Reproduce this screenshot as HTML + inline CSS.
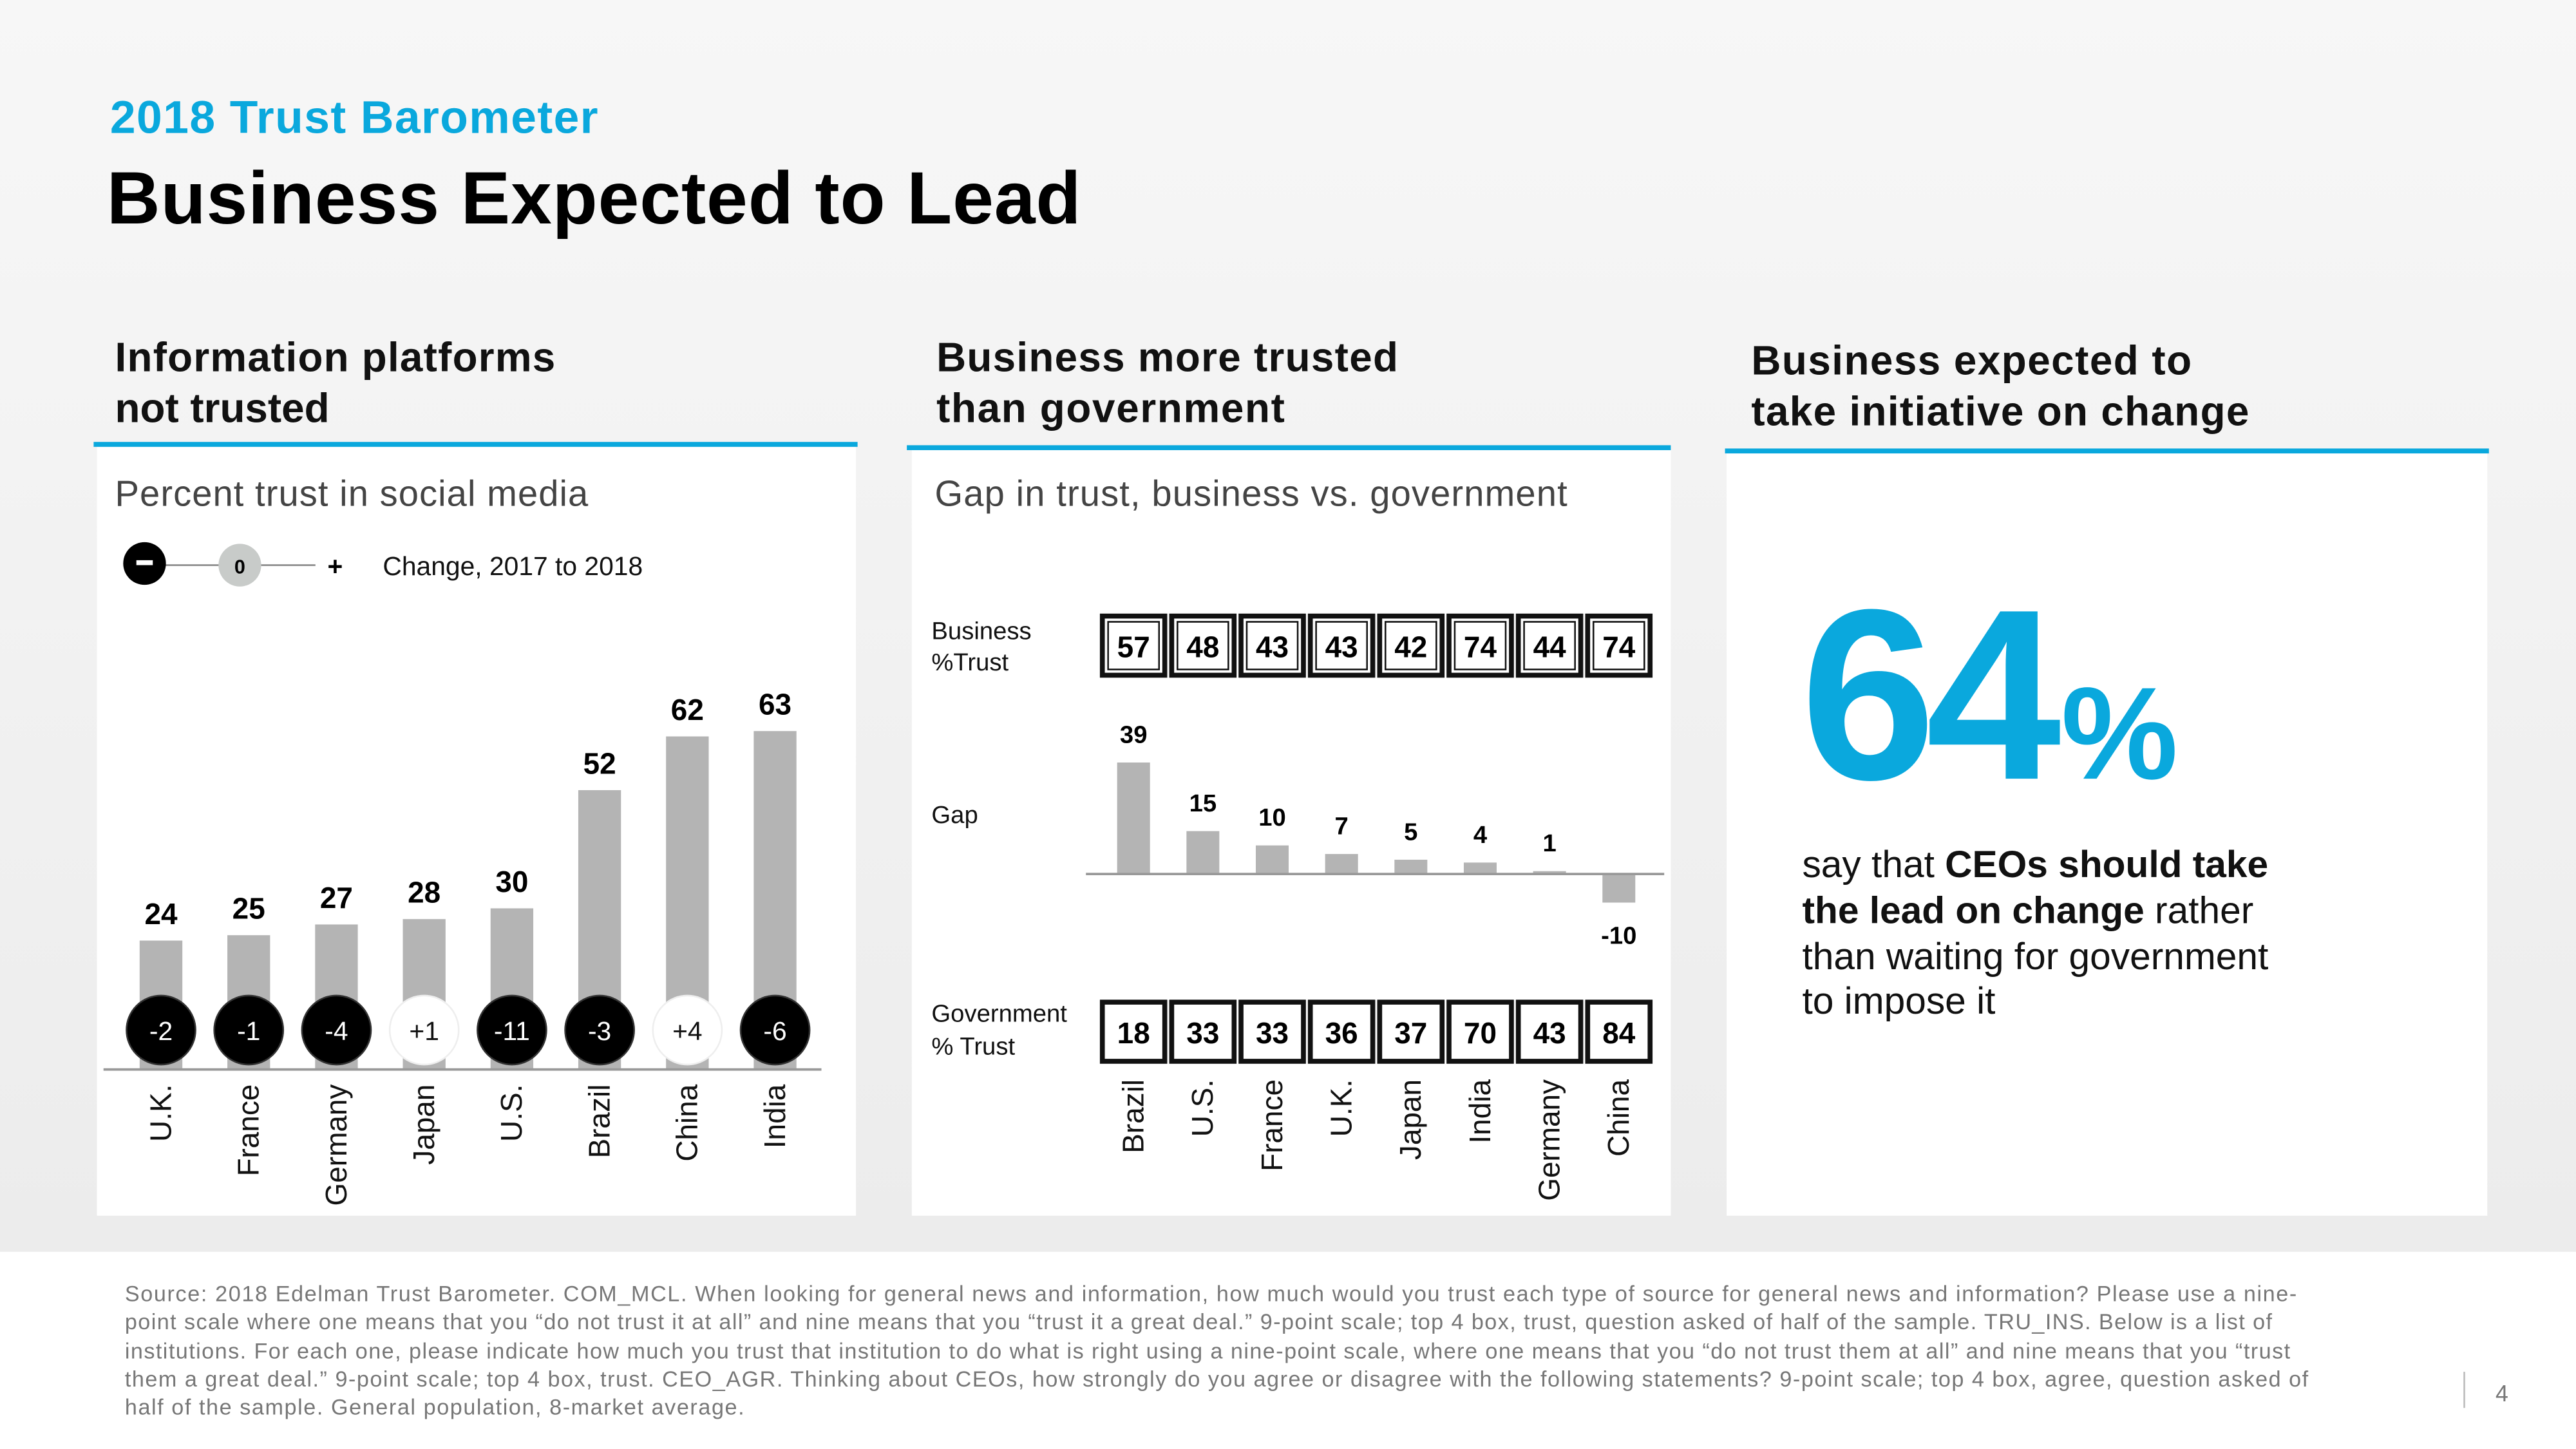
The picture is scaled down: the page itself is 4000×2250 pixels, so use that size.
<!DOCTYPE html>
<html><head><meta charset="utf-8"><style>
html,body{margin:0;padding:0;width:4000px;height:2250px;overflow:hidden;background:#f3f3f3}
svg{display:block}
text{font-family:"Liberation Sans",sans-serif}
</style></head><body>
<svg id="s" width="4000" height="2250" viewBox="0 0 1568 882" xmlns="http://www.w3.org/2000/svg">
<defs><linearGradient id="bg" x1="0" y1="0" x2="0" y2="1"><stop offset="0" stop-color="#f7f7f7"/><stop offset="1" stop-color="#ececec"/></linearGradient></defs>
<rect width="1568" height="762" fill="url(#bg)"/>
<rect y="762" width="1568" height="120" fill="#fff"/>
<text x="67" y="81" font-size="28" font-weight="bold" fill="#0aa8dd" textLength="297">2018 Trust Barometer</text>
<text x="65" y="136" font-size="45" font-weight="bold" fill="#000" textLength="593">Business Expected to Lead</text>

<g font-size="25" font-weight="bold" fill="#111">
<text x="70" y="226" textLength="268">Information platforms</text><text x="70" y="257">not trusted</text></g>
<g font-size="25" font-weight="bold" fill="#111">
<text x="570" y="226" textLength="281">Business more trusted</text><text x="570" y="257" textLength="212">than government</text></g>
<g font-size="25" font-weight="bold" fill="#111">
<text x="1066" y="228" textLength="268">Business expected to</text><text x="1066" y="259" textLength="303">take initiative on change</text></g>

<rect x="59" y="271" width="462" height="469" fill="#fff"/>
<rect x="57" y="269" width="465" height="3" fill="#0aa8dd"/>
<rect x="555" y="273" width="462" height="467" fill="#fff"/>
<rect x="552" y="271" width="465" height="3" fill="#0aa8dd"/>
<rect x="1051" y="275" width="463" height="465" fill="#fff"/>
<rect x="1050" y="273" width="465" height="3" fill="#0aa8dd"/>

<text x="70" y="308" font-size="22" fill="#444" textLength="288">Percent trust in social media</text>
<g>
<line x1="88" y1="344" x2="192" y2="344" stroke="#888" stroke-width="1"/>
<circle cx="88" cy="343" r="13" fill="#000"/><rect x="83" y="341" width="10" height="3" fill="#fff"/>
<circle cx="146" cy="344" r="13" fill="#c8cbc9"/>
<text x="146" y="349" font-size="12" font-weight="bold" text-anchor="middle">0</text>
<text x="204" y="350" font-size="16" font-weight="bold" text-anchor="middle">+</text>
<text x="233" y="350" font-size="16" fill="#111">Change,  2017 to 2018</text></g>
<g id="c1"></g>

<text x="569" y="308" font-size="22" fill="#444" textLength="385">Gap in trust, business vs. government</text>
<g font-size="15" fill="#111">
<text x="567" y="389">Business</text><text x="567" y="408">%Trust</text>
<text x="567" y="501">Gap</text>
<text x="567" y="622">Government</text><text x="567" y="642">% Trust</text></g>
<g id="c2"></g>

<text x="1096" y="474" font-size="148" font-weight="bold" fill="#0aa8dd" letter-spacing="-6">64<tspan font-size="80" dx="6">%</tspan></text>
<g font-size="23" fill="#111">
<text x="1097" y="534">say that <tspan font-weight="bold">CEOs should take</tspan></text>
<text x="1097" y="562"><tspan font-weight="bold">the lead on change</tspan> rather</text>
<text x="1097" y="590">than waiting for government</text>
<text x="1097" y="617">to impose it</text></g>

<g font-size="13.4" fill="#777" lengthAdjust="spacing">
<text x="76" y="792" textLength="1322">Source: 2018 Edelman Trust Barometer. COM_MCL. When looking for general news and information, how much would you trust each type of source for general news and information? Please use a nine-</text>
<text x="76" y="809" textLength="1307">point scale where one means that you “do not trust it at all” and nine means that you “trust it a great deal.” 9-point scale; top 4 box, trust, question asked of half of the sample. TRU_INS. Below is a list of</text>
<text x="76" y="827" textLength="1318">institutions. For each one, please indicate how much you trust that institution to do what is right using a nine-point scale, where one means that you “do not trust them at all” and nine means that you “trust</text>
<text x="76" y="844" textLength="1329">them a great deal.” 9-point scale; top 4 box, trust. CEO_AGR. Thinking about CEOs, how strongly do you agree or disagree with the following statements? 9-point scale; top 4 box, agree, question asked of</text>
<text x="76" y="861" textLength="377">half of the sample. General population, 8-market average.</text></g>
<line x1="1500" y1="835" x2="1500" y2="857" stroke="#bbb"/>
<text x="1519" y="853" font-size="14" fill="#777">4</text>
</svg>
<script>
const c1Countries=["U.K.","France","Germany","Japan","U.S.","Brazil","China","India"];
const c1Values=[24,25,27,28,30,52,62,63];
const c1Changes=[-2,-1,-4,1,-11,-3,4,-6];
const c2Countries=["Brazil","U.S.","France","U.K.","Japan","India","Germany","China"];
const c2Business=[57,48,43,43,42,74,44,74];
const c2Gov=[18,33,33,36,37,70,43,84];
const c2Gap=[39,15,10,7,5,4,1,-10];
const NS="http://www.w3.org/2000/svg";
function mk(p,t,a,txt){const e=document.createElementNS(NS,t);for(const k in a)e.setAttribute(k,a[k]);if(txt!==undefined)e.textContent=txt;p.appendChild(e);return e;}
const g1=document.getElementById('c1');
const x1=i=>98+i*53.4, base1=651, y1=v=>base1-v*3.27;
c1Values.forEach((v,i)=>{
 const cx=x1(i);
 const b=mk(g1,'rect',{x:cx-13,y:y1(v),width:26,height:base1-y1(v),fill:'#b4b4b4'});
 
 
 const l=mk(g1,'text',{x:cx,y:y1(v)-10,'font-size':18,'font-weight':'bold','text-anchor':'middle'},String(v));
 
 
 const ch=c1Changes[i], neg=ch<0;
 const c=mk(g1,'circle',{cx:cx,cy:627,r:21,fill:neg?'#000':'#fff',stroke:neg?'#333':'#eee','stroke-width':1});
 
 
 mk(g1,'text',{x:cx,y:633,'font-size':16,'text-anchor':'middle',fill:neg?'#fff':'#111'},(ch>0?'+':'')+ch);
 const t=mk(g1,'text',{transform:`translate(${cx+6},${660}) rotate(-90)`,'font-size':18,'text-anchor':'end',fill:'#111'},c1Countries[i]);
 
 
});
const ax1=mk(g1,'line',{x1:63,y1:base1,x2:500,y2:base1,stroke:'#999','stroke-width':1.5});


const g2=document.getElementById('c2');
const x2=i=>690+i*42.2, base2=532, y2=v=>base2-v*1.74;
function box(cx,y,v,dbl){
 mk(g2,'rect',{x:cx-19,y:y,width:38,height:36,fill:'#fff',stroke:'#111','stroke-width':3});
 if(dbl) mk(g2,'rect',{x:cx-15.5,y:y+3.5,width:31,height:29,fill:'none',stroke:'#111','stroke-width':1});
 mk(g2,'text',{x:cx,y:y+25,'font-size':18,'font-weight':'bold','text-anchor':'middle'},String(v));
}
c2Gap.forEach((v,i)=>{
 const cx=x2(i);
 box(cx,375,c2Business[i],true);
 box(cx,610,c2Gov[i],false);
 const top=Math.min(y2(v),base2), h=Math.abs(y2(v)-base2);
 const b=mk(g2,'rect',{x:cx-10,y:top,width:20,height:h,fill:'#b4b4b4'});
 
 
 const ly=v>=0?y2(v)-12:y2(v)+25;
 const l=mk(g2,'text',{x:cx,y:ly,'font-size':15,'font-weight':'bold','text-anchor':'middle'},String(v));
 
 
 const t=mk(g2,'text',{transform:`translate(${cx+6},${657}) rotate(-90)`,'font-size':18,'text-anchor':'end',fill:'#111'},c2Countries[i]);
 
 
});
const ax2=mk(g2,'line',{x1:661,y1:base2,x2:1013,y2:base2,stroke:'#999','stroke-width':1.5});


</script>
</body></html>
